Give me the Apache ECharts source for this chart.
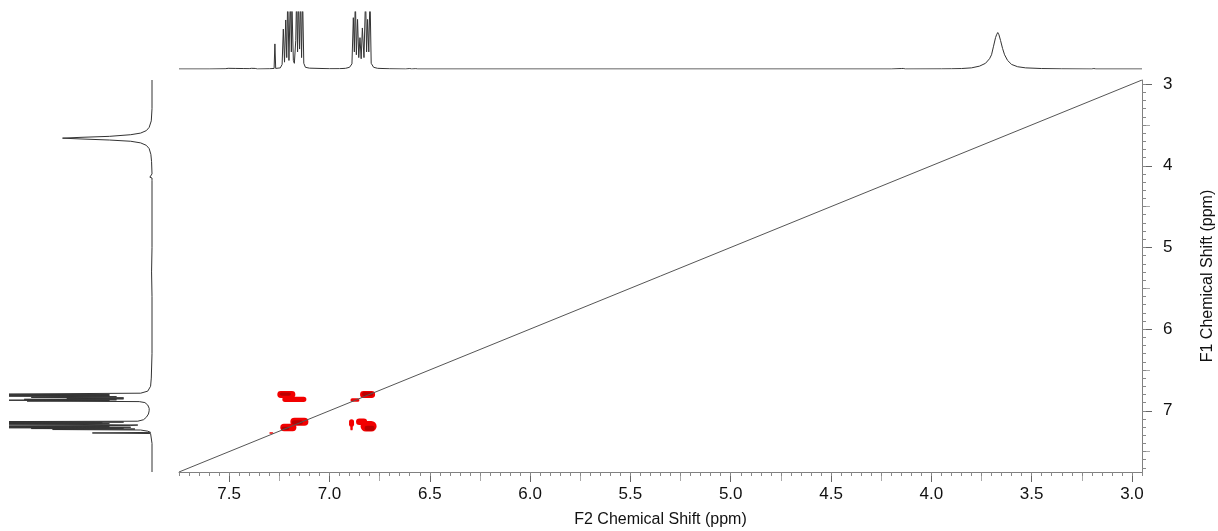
<!DOCTYPE html>
<html>
<head>
<meta charset="utf-8">
<script src="https://cdn.jsdelivr.net/npm/echarts@6/dist/echarts.min.js"></script>
<style>
html,body{margin:0;padding:0;background:#fff;}
#chart{width:1218px;height:531px;}
</style>
</head>
<body>
<div id="chart"></div>
<script>
// ---- axis tick labels ----
const f2MajorTicks = [7.5, 7.0, 6.5, 6.0, 5.5, 5.0, 4.5, 4.0, 3.5, 3.0];
const f2MidTicks = [7.25, 6.75, 6.25, 5.75, 5.25, 4.75, 4.25, 3.75, 3.25];
const f1MajorTicks = [3, 4, 5, 6, 7];
const f1MidTicks = [3.5, 4.5, 5.5, 6.5, 7.5];
const ppmRange = [2.95, 7.75];

// ---- F2 (top) 1D projection: [ppm, intensity] ----
const f2Trace = [
 [7.75,0],[7.60,0],[7.52,0.004],[7.505,0.012],[7.50,0],[7.47,0.01],[7.465,0],[7.43,0.008],[7.425,0],[7.40,0.006],[7.39,0.012],[7.385,0],[7.37,0.01],[7.36,0],[7.30,0.004],
 [7.276,0.01],[7.272,0.44],[7.268,0.01],
 [7.245,0.02],[7.236,0.08],[7.230,0.70],[7.224,0.12],[7.218,0.86],[7.213,0.2],[7.208,1.3],[7.202,0.15],[7.195,1.3],[7.190,0.3],[7.187,1.1],[7.180,0.15],[7.175,0.1],[7.168,0.5],[7.164,1.3],[7.159,0.3],[7.155,1.3],[7.149,0.35],[7.144,1.3],[7.139,0.2],[7.134,1.3],[7.128,0.1],[7.12,0.03],[7.10,0.015],
 [7.00,0.005],[6.95,0.006],[6.92,0.012],[6.90,0.03],[6.888,0.09],[6.881,0.9],[6.876,0.3],[6.871,1.3],[6.866,0.25],[6.860,0.87],[6.854,0.2],[6.848,0.55],[6.842,0.18],[6.836,0.72],[6.828,0.2],[6.820,1.3],[6.815,0.3],[6.810,0.87],[6.804,0.3],[6.798,1.3],[6.792,0.1],[6.78,0.03],[6.76,0.012],[6.70,0.004],
 [6.62,0],[6.60,0.008],[6.59,0],[6.57,0.006],[6.56,0],
 [4.20,0],[4.15,0.008],[4.145,0],[4.14,0.01],[4.13,0],
 [3.95,0.002],[3.90,0.004],[3.85,0.008],[3.80,0.02],[3.76,0.05],[3.73,0.10],[3.71,0.18],[3.70,0.25],[3.69,0.40],[3.68,0.55],[3.675,0.60],[3.669,0.64],[3.663,0.60],[3.655,0.50],[3.645,0.36],[3.635,0.25],[3.62,0.15],[3.60,0.08],[3.57,0.04],[3.53,0.02],[3.45,0.008],[3.35,0.003],
 [3.20,0],[3.19,0.008],[3.18,0],[2.95,0]
];

// ---- F1 (left) 1D projection: [intensity, ppm] ----
const f1Trace = [
 [0,2.95],[0,3.30],[0.005,3.45],[0.02,3.53],[0.04,3.57],[0.08,3.60],[0.15,3.62],[0.3,3.64],[0.5,3.652],[0.63,3.662],[0.5,3.672],[0.3,3.685],[0.15,3.70],[0.08,3.72],[0.04,3.75],[0.02,3.79],[0.008,3.86],[0.003,3.95],
 [0,4.10],[0.015,4.14],[0,4.15],[0.01,4.16],[0,4.18],[0,5.0],[0.003,5.3],[0,5.6],[0,6.3],[0.005,6.6],[0.01,6.7],[0.03,6.76],[0.08,6.785],
 [1.3,6.798],[0.3,6.803],[1.3,6.810],[0.3,6.815],[1.3,6.820],[0.25,6.828],[0.85,6.836],[0.2,6.842],[0.6,6.848],[0.2,6.854],[0.9,6.860],[0.25,6.866],[1.3,6.871],[0.3,6.876],[0.88,6.881],[0.09,6.888],
 [0.05,6.90],[0.03,6.93],[0.02,6.97],[0.02,7.00],[0.025,7.04],[0.04,7.08],[0.06,7.11],[0.1,7.128],
 [1.3,7.134],[0.2,7.139],[1.3,7.144],[0.35,7.149],[1.3,7.155],[0.3,7.159],[1.3,7.164],[0.5,7.168],[0.1,7.175],[0.15,7.180],[1.1,7.187],[0.3,7.190],[1.3,7.195],[0.15,7.202],[1.3,7.208],[0.2,7.213],[0.85,7.218],[0.12,7.224],[0.7,7.230],[0.08,7.236],[0.03,7.25],[0.01,7.265],[0.42,7.272],[0.01,7.279],[0.005,7.30],[0,7.40],[0,7.75]
];

// ---- diagonal ----
const diagonal = [[7.75,7.75],[2.95,2.95]];

// ---- 2D cross/diagonal peaks: [F2 ppm, F1 ppm, F2 width, F1 width] ----
const crossOuter = [
 [7.215, 6.80, 0.09, 0.085],
 [7.175, 6.86, 0.12, 0.065],
 [6.81, 6.80, 0.075, 0.085],
 [6.873, 6.868, 0.045, 0.045],
 [7.15, 7.135, 0.09, 0.10],
 [7.205, 7.205, 0.08, 0.09],
 [7.29, 7.272, 0.02, 0.02],
 [6.89, 7.15, 0.025, 0.09],
 [6.89, 7.20, 0.012, 0.08],
 [6.84, 7.135, 0.055, 0.08],
 [6.805, 7.19, 0.08, 0.13]
];
const crossCore = [
 [7.22, 6.795, 0.055, 0.04],
 [6.81, 6.795, 0.055, 0.05],
 [7.16, 7.145, 0.055, 0.055],
 [7.22, 7.215, 0.04, 0.04],
 [6.80, 7.215, 0.05, 0.06]
];

// minor tick positions
const f2MinorTicks = [];
for (let k = 59; k <= 155; k++) f2MinorTicks.push(Math.round(k * 5) / 100);
const f1MinorTicks = [];
for (let k = 30; k <= 77; k++) f1MinorTicks.push(k / 10);

const FONT = 'Liberation Sans, Arial, sans-serif';
const AX = '#808080';

function blobRender(color) {
  return function (params, api) {
    const c = api.coord([api.value(0), api.value(1)]);
    const s = api.size([api.value(2), api.value(3)], [api.value(0), api.value(1)]);
    const r = Math.min(s[0], s[1]) / 2;
    return {
      type: 'rect',
      shape: { x: c[0] - s[0] / 2, y: c[1] - s[1] / 2, width: s[0], height: s[1], r: r },
      style: { fill: color }
    };
  };
}

const chart = echarts.init(document.getElementById('chart'), null, { renderer: 'canvas' });
const hidden = { axisLine: { show: false }, axisTick: { show: false }, axisLabel: { show: false }, splitLine: { show: false } };

chart.setOption({
  animation: false,
  backgroundColor: '#ffffff',
  textStyle: { fontFamily: FONT },
  grid: [
    { left: 179, top: 80, width: 963, height: 392, containLabel: false, outerBoundsMode: 'none' },
    { left: 179, top: 12, width: 963, height: 57, containLabel: false, outerBoundsMode: 'none' },
    { left: 10, top: 80, width: 142, height: 392, containLabel: false, outerBoundsMode: 'none' }
  ],
  xAxis: [
    {
      gridIndex: 0, type: 'value', min: ppmRange[0], max: ppmRange[1], inverse: true, position: 'bottom',
      axisLine: { show: true, lineStyle: { color: AX, width: 1 } },
      axisTick: { show: true, customValues: f2MajorTicks, length: 10, lineStyle: { color: '#666' } },
      axisLabel: { show: true, customValues: f2MajorTicks, formatter: v => v.toFixed(1), fontSize: 17, color: '#111', margin: 14, fontFamily: FONT },
      splitLine: { show: false },
      name: 'F2 Chemical Shift (ppm)', nameLocation: 'middle', nameGap: 40,
      nameTextStyle: { fontSize: 16, color: '#111', fontFamily: FONT }
    },
    {
      gridIndex: 0, type: 'value', min: ppmRange[0], max: ppmRange[1], inverse: true, position: 'bottom',
      axisLine: { show: false },
      axisTick: { show: true, customValues: f2MidTicks, length: 9, lineStyle: { color: '#aaa' } },
      axisLabel: { show: false }, splitLine: { show: false }
    },
    {
      gridIndex: 0, type: 'value', min: ppmRange[0], max: ppmRange[1], inverse: true, position: 'bottom',
      axisLine: { show: false },
      axisTick: { show: true, customValues: f2MinorTicks, length: 4, lineStyle: { color: '#888' } },
      axisLabel: { show: false }, splitLine: { show: false }
    },
    Object.assign({ gridIndex: 1, type: 'value', min: ppmRange[0], max: ppmRange[1], inverse: true }, hidden),
    Object.assign({ gridIndex: 2, type: 'value', min: 0, max: 1, inverse: true }, hidden)
  ],
  yAxis: [
    {
      gridIndex: 0, type: 'value', min: ppmRange[0], max: ppmRange[1], inverse: true, position: 'right',
      axisLine: { show: true, lineStyle: { color: AX, width: 1 } },
      axisTick: { show: true, customValues: f1MajorTicks, length: 10, lineStyle: { color: '#666' } },
      axisLabel: { show: true, customValues: f1MajorTicks, formatter: v => String(Math.round(v)), fontSize: 17, color: '#111', margin: 21, fontFamily: FONT },
      splitLine: { show: false },
      name: 'F1 Chemical Shift (ppm)', nameLocation: 'middle', nameGap: 58, nameRotate: 90,
      nameTextStyle: { fontSize: 16, color: '#111', fontFamily: FONT }
    },
    {
      gridIndex: 0, type: 'value', min: ppmRange[0], max: ppmRange[1], inverse: true, position: 'right',
      axisLine: { show: false },
      axisTick: { show: true, customValues: f1MidTicks, length: 8, lineStyle: { color: '#aaa' } },
      axisLabel: { show: false }, splitLine: { show: false }
    },
    {
      gridIndex: 0, type: 'value', min: ppmRange[0], max: ppmRange[1], inverse: true, position: 'right',
      axisLine: { show: false },
      axisTick: { show: true, customValues: f1MinorTicks, length: 4, lineStyle: { color: '#888' } },
      axisLabel: { show: false }, splitLine: { show: false }
    },
    Object.assign({ gridIndex: 1, type: 'value', min: 0, max: 1 }, hidden),
    Object.assign({ gridIndex: 2, type: 'value', min: ppmRange[0], max: ppmRange[1], inverse: true }, hidden)
  ],
  series: [
    {
      type: 'custom', xAxisIndex: 0, yAxisIndex: 0, renderItem: blobRender('#f20000'),
      data: crossOuter, z: 2, silent: true
    },
    {
      type: 'custom', xAxisIndex: 0, yAxisIndex: 0, renderItem: blobRender('#bb0000'),
      data: crossCore, z: 3, silent: true
    },
    {
      type: 'line', xAxisIndex: 0, yAxisIndex: 0, data: diagonal, showSymbol: false, z: 5,
      lineStyle: { color: '#555', width: 1 }, silent: true
    },
    {
      type: 'line', xAxisIndex: 3, yAxisIndex: 3, data: f2Trace, showSymbol: false, clip: true,
      lineStyle: { color: '#333', width: 1 }, silent: true
    },
    {
      type: 'line', xAxisIndex: 4, yAxisIndex: 4, data: f1Trace, showSymbol: false, clip: true,
      lineStyle: { color: '#333', width: 1 }, silent: true
    }
  ]
});
</script>
</body>
</html>
